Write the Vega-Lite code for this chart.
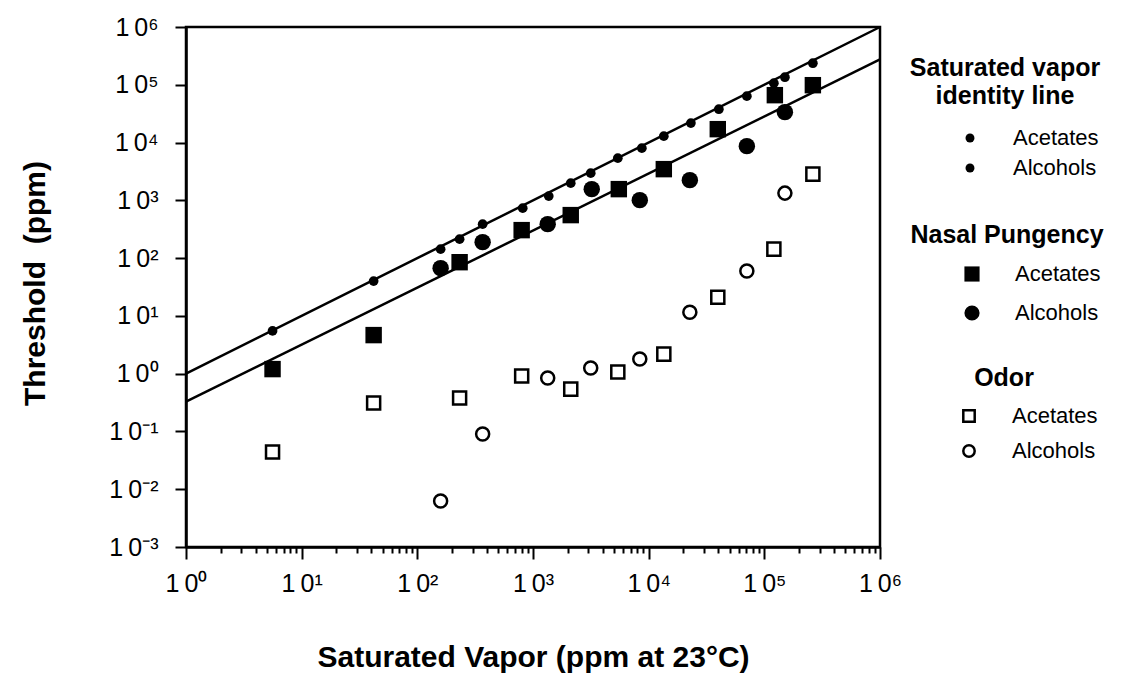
{
  "$schema": "https://vega.github.io/schema/vega-lite/v6.json",
  "autosize": {"type": "none"},
  "padding": {"left": 186, "top": 27, "right": 250, "bottom": 145},
  "width": 694,
  "height": 520,
  "background": "white",
  "config": {
    "view": {"stroke": "black", "strokeWidth": 2.5},
    "font": "Liberation Sans",
    "axis": {
      "domainColor": "black", "domainWidth": 2.5, "tickColor": "black", "tickWidth": 2,
      "labelColor": "black", "titleColor": "black", "grid": false,
      "labelFont": "Liberation Sans", "labelFontSize": 25, "titleFont": "Liberation Sans", "titleFontWeight": "bold"
    },
    "legend": {
      "titleFont": "Liberation Sans", "titleFontSize": 25, "titleFontWeight": "bold", "titleColor": "black",
      "titleLineHeight": 28, "titleLimit": 400, "labelLimit": 300,
      "labelFont": "Liberation Sans", "labelFontSize": 22, "labelColor": "black",
      "titleAnchor": "middle", "titleAlign": "center", "rowPadding": 10, "titlePadding": 12,
      "symbolOffset": 48, "labelOffset": 32
    }
  },
  "datasets": {
    "lines": [
      {"series": "identity", "x": 1, "y": 1},
      {"series": "identity", "x": 1000000, "y": 1000000},
      {"series": "pungency", "x": 1, "y": 0.327},
      {"series": "pungency", "x": 1000000, "y": 274000}
    ],
    "satvapor": [
      {"compound": "Acetates", "x": 5.6, "y": 5.5},
      {"compound": "Acetates", "x": 41.9, "y": 40},
      {"compound": "Alcohols", "x": 159, "y": 143},
      {"compound": "Acetates", "x": 232, "y": 213},
      {"compound": "Alcohols", "x": 367, "y": 387},
      {"compound": "Acetates", "x": 815, "y": 733},
      {"compound": "Alcohols", "x": 1368, "y": 1183},
      {"compound": "Acetates", "x": 2120, "y": 1985},
      {"compound": "Alcohols", "x": 3155, "y": 2957},
      {"compound": "Acetates", "x": 5410, "y": 5370},
      {"compound": "Alcohols", "x": 8730, "y": 8000},
      {"compound": "Acetates", "x": 13520, "y": 12900},
      {"compound": "Alcohols", "x": 23170, "y": 21700},
      {"compound": "Acetates", "x": 40440, "y": 37800},
      {"compound": "Alcohols", "x": 70600, "y": 63500},
      {"compound": "Acetates", "x": 120900, "y": 106600},
      {"compound": "Alcohols", "x": 150600, "y": 135000},
      {"compound": "Acetates", "x": 262800, "y": 236000}
    ],
    "nasal": [
      {"compound": "Acetates", "x": 5.6, "y": 1.2},
      {"compound": "Acetates", "x": 41.9, "y": 4.65},
      {"compound": "Acetates", "x": 232, "y": 85},
      {"compound": "Acetates", "x": 798, "y": 305},
      {"compound": "Acetates", "x": 2120, "y": 555},
      {"compound": "Acetates", "x": 5520, "y": 1563},
      {"compound": "Acetates", "x": 13520, "y": 3467},
      {"compound": "Acetates", "x": 39600, "y": 17060},
      {"compound": "Acetates", "x": 123300, "y": 66100},
      {"compound": "Acetates", "x": 262800, "y": 98400},
      {"compound": "Alcohols", "x": 159, "y": 67},
      {"compound": "Alcohols", "x": 367, "y": 189},
      {"compound": "Alcohols", "x": 1340, "y": 387},
      {"compound": "Alcohols", "x": 3220, "y": 1563},
      {"compound": "Alcohols", "x": 8380, "y": 1008},
      {"compound": "Alcohols", "x": 22700, "y": 2236},
      {"compound": "Alcohols", "x": 70600, "y": 8670},
      {"compound": "Alcohols", "x": 150600, "y": 33600}
    ],
    "odor": [
      {"compound": "Acetates", "x": 5.6, "y": 0.044},
      {"compound": "Acetates", "x": 41.9, "y": 0.31},
      {"compound": "Acetates", "x": 232, "y": 0.38},
      {"compound": "Acetates", "x": 798, "y": 0.91},
      {"compound": "Acetates", "x": 2120, "y": 0.54},
      {"compound": "Acetates", "x": 5410, "y": 1.07},
      {"compound": "Acetates", "x": 13520, "y": 2.18},
      {"compound": "Acetates", "x": 39600, "y": 21.1},
      {"compound": "Acetates", "x": 120900, "y": 143},
      {"compound": "Acetates", "x": 262800, "y": 2840},
      {"compound": "Alcohols", "x": 159, "y": 0.00625},
      {"compound": "Alcohols", "x": 367, "y": 0.09},
      {"compound": "Alcohols", "x": 1340, "y": 0.84},
      {"compound": "Alcohols", "x": 3155, "y": 1.25},
      {"compound": "Alcohols", "x": 8380, "y": 1.79},
      {"compound": "Alcohols", "x": 22700, "y": 11.6},
      {"compound": "Alcohols", "x": 70600, "y": 59.6},
      {"compound": "Alcohols", "x": 150600, "y": 1333}
    ]
  },
  "encoding": {
    "x": {
      "field": "x", "type": "quantitative",
      "scale": {"type": "log", "domain": [1, 1000000], "nice": false},
      "axis": {
        "title": "Saturated Vapor (ppm at 23°C)", "titleFontSize": 30,
        "titleX": 347, "titleY": 110, "titleBaseline": "middle",
        "values": [1,2,3,4,5,6,7,8,9,10,20,30,40,50,60,70,80,90,100,200,300,400,500,600,700,800,900,1000,2000,3000,4000,5000,6000,7000,8000,9000,10000,20000,30000,40000,50000,60000,70000,80000,90000,100000,200000,300000,400000,500000,600000,700000,800000,900000,1000000],
        "labelExpr": "datum.value == 1 ? '1\u20090⁰' : datum.value == 10 ? '1\u20090¹' : datum.value == 100 ? '1\u20090²' : datum.value == 1000 ? '1\u20090³' : datum.value == 10000 ? '1\u20090⁴' : datum.value == 100000 ? '1\u20090⁵' : datum.value == 1000000 ? '1\u20090⁶' : ''",
        "labelPadding": 12, "labelOverlap": false, "labelFlush": false,
        "tickSize": {"condition": {"test": "indexof([1,10,100,1000,10000,100000,1000000], datum.value) >= 0", "value": 12}, "value": 6}
      }
    },
    "y": {
      "field": "y", "type": "quantitative",
      "scale": {"type": "log", "domain": [0.001, 1000000], "nice": false},
      "axis": {
        "title": "Threshold\u00a0 (ppm)", "titleFontSize": 30,
        "titleX": -151, "titleY": 256, "titleAngle": -90, "titleBaseline": "middle", "titleAlign": "center",
        "values": [0.001, 0.01, 0.1, 1, 10, 100, 1000, 10000, 100000, 1000000],
        "labelExpr": "datum.value < 0.005 ? '1\u20090⁻³' : datum.value < 0.05 ? '1\u20090⁻²' : datum.value < 0.5 ? '1\u20090⁻¹' : datum.value == 1 ? '1\u20090⁰' : datum.value == 10 ? '1\u20090¹' : datum.value == 100 ? '1\u20090²' : datum.value == 1000 ? '1\u20090³' : datum.value == 10000 ? '1\u20090⁴' : datum.value == 100000 ? '1\u20090⁵' : '1\u20090⁶'",
        "tickSize": 11, "labelPadding": 17, "labelOverlap": false, "labelFlush": false
      }
    }
  },
  "layer": [
    {
      "data": {"name": "lines"},
      "mark": {"type": "line", "color": "black", "strokeWidth": 2.5},
      "encoding": {"detail": {"field": "series"}}
    },
    {
      "data": {"name": "satvapor"},
      "mark": {"type": "point", "filled": true, "color": "black", "size": 95, "opacity": 1},
      "encoding": {
        "shape": {
          "field": "compound", "type": "nominal",
          "scale": {"domain": ["Acetates", "Alcohols"], "range": ["circle", "circle"]},
          "legend": {"title": ["Saturated vapor", "identity line"], "orient": "none", "legendX": 724, "legendY": 29,
            "symbolSize": 80, "symbolFillColor": "black", "symbolStrokeColor": "black", "rowPadding": 8, "titlePadding": 18}
        }
      }
    },
    {
      "data": {"name": "nasal"},
      "mark": {"type": "point", "filled": true, "color": "black", "size": 270, "opacity": 1},
      "encoding": {
        "shape": {
          "field": "compound", "type": "nominal",
          "scale": {"domain": ["Acetates", "Alcohols"], "range": ["square", "circle"]},
          "legend": {"title": "Nasal Pungency", "orient": "none", "legendX": 724, "legendY": 196,
            "symbolSize": 230, "symbolFillColor": "black", "symbolStrokeColor": "black", "rowPadding": 17, "titlePadding": 15}
        }
      }
    },
    {
      "data": {"name": "odor"},
      "mark": {"type": "point", "filled": false, "color": "black", "size": 170, "strokeWidth": 2.5, "opacity": 1},
      "encoding": {
        "shape": {
          "field": "compound", "type": "nominal",
          "scale": {"domain": ["Acetates", "Alcohols"], "range": ["square", "circle"]},
          "legend": {"title": "Odor", "orient": "none", "legendX": 724, "legendY": 339,
            "symbolSize": 130, "symbolFillColor": "white", "symbolStrokeColor": "black", "symbolStrokeWidth": 2.5, "rowPadding": 13, "titlePadding": 14}
        }
      }
    }
  ],
  "resolve": {"scale": {"shape": "independent"}, "legend": {"shape": "independent"}}
}
